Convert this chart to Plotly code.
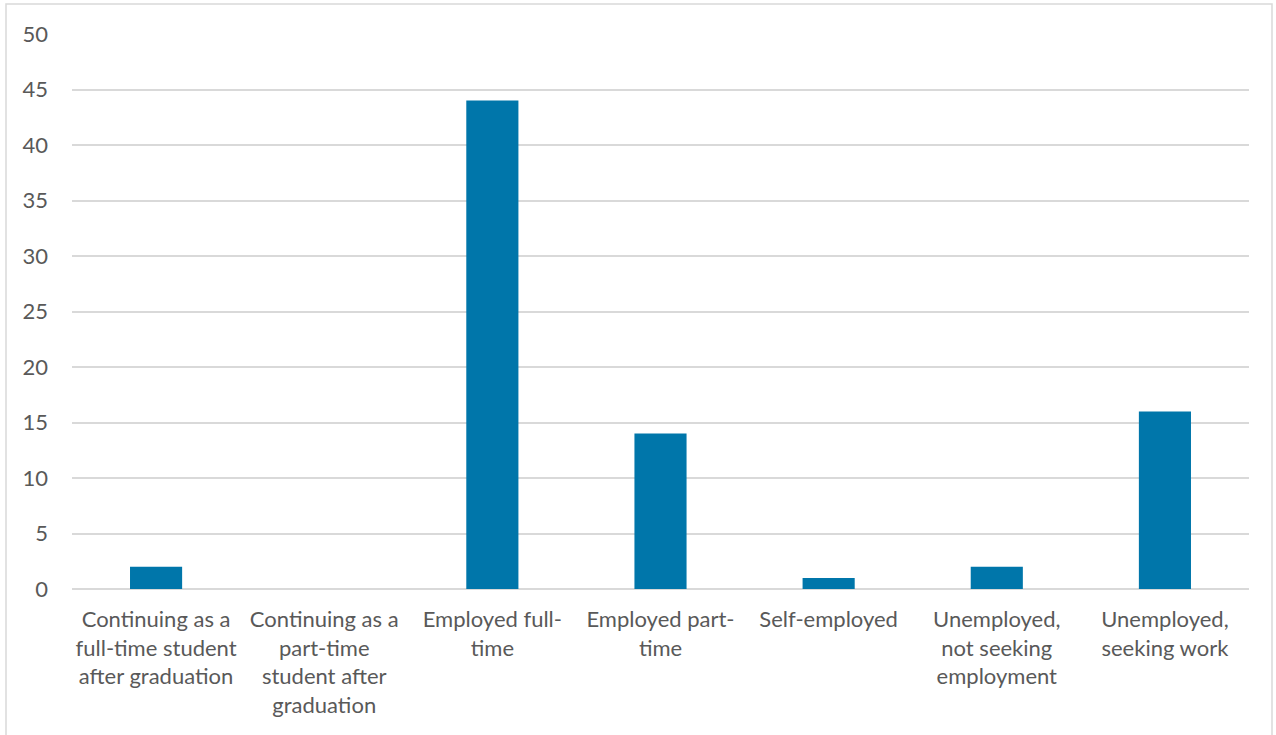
import plotly.graph_objects as go

categories = [
    "Continuing as a<br>full-time student<br>after graduation",
    "Continuing as a<br>part-time<br>student after<br>graduation",
    "Employed full-<br>time",
    "Employed part-<br>time",
    "Self-employed",
    "Unemployed,<br>not seeking<br>employment",
    "Unemployed,<br>seeking work",
]
values = [2, 0, 44, 14, 1, 2, 16]
y_ticks = [0, 5, 10, 15, 20, 25, 30, 35, 40, 45, 50]

W, H = 1276, 735
L, R, T, B = 72, 27, 34, 146
pw, ph = W - L - R, H - T - B

fig = go.Figure(go.Bar(x=categories, y=values, marker=dict(color="#0076AA", line=dict(width=0))))

fig.update_layout(
    width=W, height=H,
    margin=dict(l=L, r=R, t=T, b=B, pad=0),
    paper_bgcolor="white", plot_bgcolor="white",
    bargap=0.69,
    showlegend=False,
    font=dict(family="Lato, Open Sans, sans-serif", size=22, color="#595959"),
    xaxis=dict(showgrid=False, showline=False, ticks="", tickangle=0, ticklabelstandoff=15,
               tickfont=dict(size=22, color="#595959"), automargin=False),
    yaxis=dict(range=[0, 50], tickvals=y_ticks, showgrid=True, gridcolor="#D9D9D9", gridwidth=1.5,
               zeroline=True, zerolinecolor="#D9D9D9", zerolinewidth=1.5,
               showline=False, ticks="", ticklabelstandoff=23,
               tickfont=dict(size=22, color="#595959"), automargin=False),
    shapes=[dict(type="rect", xref="paper", yref="paper",
                 x0=(6 - L) / pw, x1=(W - 4 - L) / pw,
                 y0=-(H + 5 - (T + ph)) / ph, y1=1 + (T - 4) / ph,
                 line=dict(color="#D9D9D9", width=1.5), fillcolor="rgba(0,0,0,0)", layer="below")],
)

fig.write_html("out.html", config={"displayModeBar": False},
               post_script="document.body.style.margin='0';document.body.style.overflow='hidden';")
